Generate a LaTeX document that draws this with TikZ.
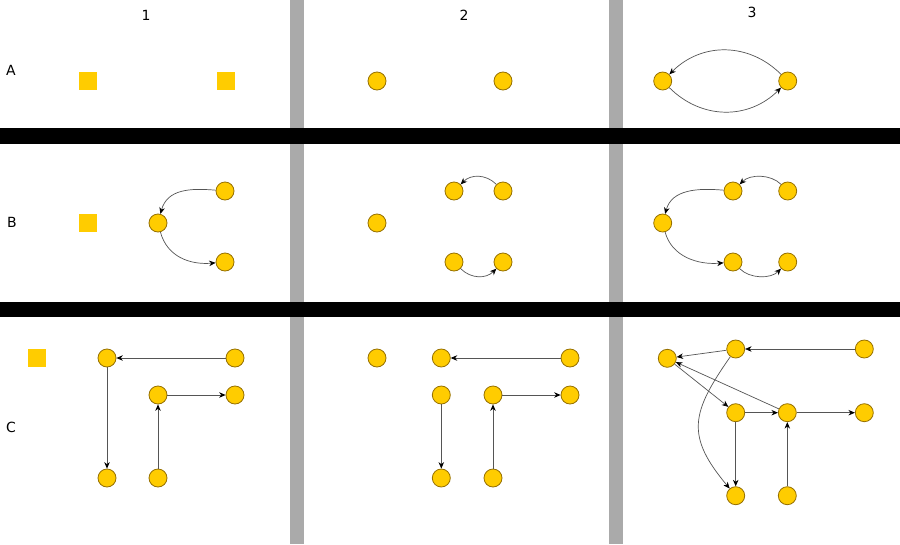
\documentclass[tikz,border=0pt]{standalone}
\usepackage{fontspec}
\setmainfont{DejaVu Sans}
\usetikzlibrary{arrows.meta}
\definecolor{gold}{RGB}{255,204,0}
\definecolor{goldedge}{RGB}{150,112,0}
\definecolor{edgegray}{RGB}{85,85,85}
\definecolor{bargray}{RGB}{170,170,170}
\tikzset{
  vtx/.style={circle,fill=gold,draw=goldedge,line width=0.8pt,minimum size=18pt,inner sep=0pt},
  sq/.style={rectangle,fill=gold,minimum size=18pt,inner sep=0pt},
  conn/.style={draw=edgegray,line width=0.7pt,-{Stealth[length=6.5pt,width=5.5pt,black]}},
  lbl/.style={font=\fontsize{14}{16}\selectfont,inner sep=0pt}
}
\begin{document}
\begin{tikzpicture}[x=1pt,y=1pt]
\useasboundingbox (0,0) rectangle (900,-544);
\fill[white] (0,0) rectangle (900,-544);
% separators
\fill[bargray] (290,0) rectangle (304,-544);
\fill[bargray] (609,0) rectangle (623,-544);
\fill[black] (0,-128) rectangle (900,-144);
\fill[black] (0,-302) rectangle (900,-317);
% labels
\node[lbl] (c1) at (146,-15) {1};
\node[lbl] (c2) at (464,-15) {2};
\node[lbl] (c3) at (752,-12) {3};
\node[lbl] (rA) at (11,-70) {A};
\node[lbl] (rB) at (12,-222) {B};
\node[lbl] (rC) at (11,-427) {C};
% ---------- Row A ----------
\node[sq] (a1s1) at (88,-81) {};
\node[sq] (a1s2) at (226,-81) {};
\node[vtx] (a2n1) at (377,-81) {};
\node[vtx] (a2n2) at (503,-81) {};
\node[vtx] (a3n1) at (662.7,-81) {};
\node[vtx] (a3n2) at (787.7,-81) {};
\draw[conn] (a3n2) .. controls +(135:55) and +(45:55) .. (a3n1);
\draw[conn] (a3n1) .. controls +(-45:55) and +(-135:55) .. (a3n2);
% ---------- Row B ----------
\node[sq] (b1s) at (88,-223) {};
\node[vtx] (b1t) at (225,-191) {};
\node[vtx] (b1m) at (158,-223) {};
\node[vtx] (b1b) at (225,-262) {};
\draw[conn] (b1t) .. controls +(175:35) and +(75:35) .. (b1m);
\draw[conn] (b1m) .. controls +(-75:35) and +(185:35) .. (b1b);
\node[vtx] (b2m) at (377,-223) {};
\node[vtx] (b2tl) at (454,-191) {};
\node[vtx] (b2tr) at (503,-191) {};
\node[vtx] (b2bl) at (454,-262) {};
\node[vtx] (b2br) at (503,-262) {};
\draw[conn] (b2tr) .. controls +(135:24) and +(45:24) .. (b2tl);
\draw[conn] (b2bl) .. controls +(-45:24) and +(-135:24) .. (b2br);
\node[vtx] (b3m) at (662.7,-223) {};
\node[vtx] (b3tl) at (733,-191) {};
\node[vtx] (b3tr) at (787.7,-191) {};
\node[vtx] (b3bl) at (733,-262) {};
\node[vtx] (b3br) at (787.7,-262) {};
\draw[conn] (b3tr) .. controls +(135:24) and +(45:24) .. (b3tl);
\draw[conn] (b3tl) .. controls +(175:35) and +(75:35) .. (b3m);
\draw[conn] (b3m) .. controls +(-75:35) and +(185:35) .. (b3bl);
\draw[conn] (b3bl) .. controls +(-45:24) and +(-135:24) .. (b3br);
% ---------- Row C ----------
\node[sq] (c1s) at (37,-358) {};
\node[vtx] (c1a) at (107,-358) {};
\node[vtx] (c1b) at (235,-358) {};
\node[vtx] (c1c) at (158,-395) {};
\node[vtx] (c1d) at (235,-395) {};
\node[vtx] (c1e) at (107,-478) {};
\node[vtx] (c1f) at (158,-478) {};
\draw[conn] (c1b) -- (c1a);
\draw[conn] (c1a) -- (c1e);
\draw[conn] (c1f) -- (c1c);
\draw[conn] (c1c) -- (c1d);
\node[vtx] (c2s) at (377,-358) {};
\node[vtx] (c2a) at (441.3,-358) {};
\node[vtx] (c2b) at (570,-358) {};
\node[vtx] (c2c) at (441.3,-395) {};
\node[vtx] (c2d) at (493,-395) {};
\node[vtx] (c2g) at (570,-395) {};
\node[vtx] (c2e) at (441.3,-478) {};
\node[vtx] (c2f) at (493,-478) {};
\draw[conn] (c2b) -- (c2a);
\draw[conn] (c2c) -- (c2e);
\draw[conn] (c2f) -- (c2d);
\draw[conn] (c2d) -- (c2g);
\node[vtx] (c3l) at (667.3,-358.3) {};
\node[vtx] (c3a) at (735.7,-349) {};
\node[vtx] (c3b) at (864.3,-349) {};
\node[vtx] (c3c) at (735.7,-412.7) {};
\node[vtx] (c3d) at (787.3,-412.7) {};
\node[vtx] (c3g) at (864.3,-412.7) {};
\node[vtx] (c3e) at (735.7,-495.7) {};
\node[vtx] (c3f) at (787.3,-495.7) {};
\draw[conn] (c3b) -- (c3a);
\draw[conn] (c3a) -- (c3l);
\draw[conn] (c3l) -- (c3c);
\draw[conn] (c3d) -- (c3l);
\draw[conn] (c3c) -- (c3d);
\draw[conn] (c3d) -- (c3g);
\draw[conn] (c3c) -- (c3e);
\draw[conn] (c3f) -- (c3d);
\draw[conn] (c3a) .. controls +(235:78) and +(130:78) .. (c3e);
\end{tikzpicture}
\end{document}
